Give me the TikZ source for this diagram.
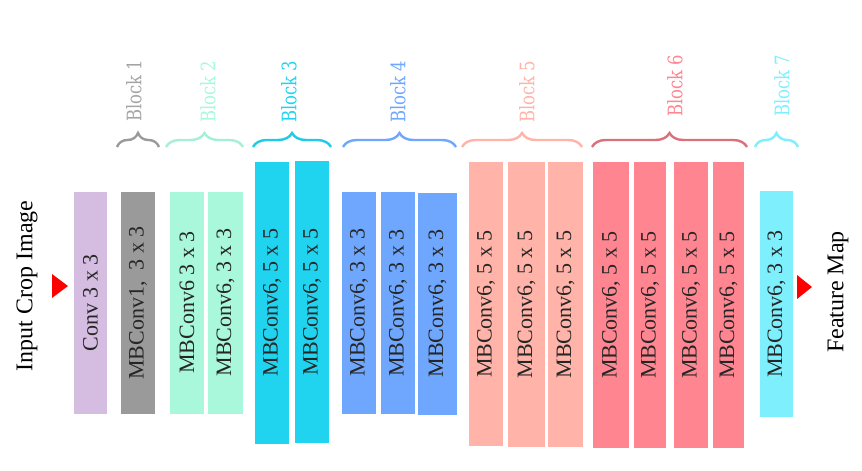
\documentclass[tikz,border=0pt]{standalone}
\usepackage{fontspec}
\setmainfont{Liberation Serif}
\newfontfamily\slabfont[FakeStretch=0.82]{DejaVu Serif}
\usetikzlibrary{decorations.pathreplacing}
\definecolor{convpurple}{HTML}{D5BDE2}
\definecolor{onegray}{HTML}{9A9A9A}
\definecolor{twomint}{HTML}{A9F8DC}
\definecolor{threecyan}{HTML}{20D4EF}
\definecolor{fourblue}{HTML}{6EA7FD}
\definecolor{fivesalmon}{HTML}{FFB3A9}
\definecolor{sixpink}{HTML}{FF8591}
\definecolor{sevencyan}{HTML}{7EF0FD}

\tikzset{
  layer/.style={rotate=90, inner sep=0pt, minimum height=34, font=\fontsize{22}{26}\selectfont, text=black!85},
  lowbar/.style={minimum width=222},
  highbar/.style={minimum width=282},
  blocklabel/.style={rotate=90, anchor=west, inner sep=0pt, font=\slabfont\fontsize{20}{24}\selectfont},
  blockbrace/.style={decorate, decoration={brace, amplitude=14pt}, line width=2.4pt},
  sidelabel/.style={rotate=90, inner sep=0pt, font=\fontsize{24}{28}\selectfont},
}

\begin{document}
\begin{tikzpicture}[x=1pt, y=-1pt]
        \useasboundingbox (0, 0) rectangle (862, 471);
        % layers
        \node[layer, lowbar, fill=convpurple, minimum height=33] (1) at (90.5, 303) {Conv 3 x 3};
        \node[layer, lowbar, fill=onegray] (2) at (138, 303) {MBConv1,\ \ 3 x 3};
        \node[layer, lowbar, fill=twomint] (3) at (187, 302.5) {MBConv6 3 x 3};
        \node[layer, lowbar, fill=twomint, minimum height=35] (4) at (225.5, 302.5) {MBConv6, 3 x 3};
        \node[layer, highbar, fill=threecyan] (5) at (272, 302.5) {MBConv6, 5 x 5};
        \node[layer, highbar, fill=threecyan] (6) at (312, 302) {MBConv6, 5 x 5};
        \node[layer, lowbar, fill=fourblue] (7) at (359, 302.5) {MBConv6, 3 x 3};
        \node[layer, lowbar, fill=fourblue] (8) at (398, 303) {MBConv6, 3 x 3};
        \node[layer, lowbar, fill=fourblue, minimum height=39] (9) at (437.5, 303.5) {MBConv6, 3 x 3};
        \node[layer, highbar, fill=fivesalmon, minimum width=284] (10) at (486, 304) {MBConv6, 5 x 5};
        \node[layer, highbar, fill=fivesalmon, minimum width=285, minimum height=37] (11) at (526.5, 304.5) {MBConv6, 5 x 5};
        \node[layer, highbar, fill=fivesalmon, minimum width=285, minimum height=35] (12) at (565.5, 304.5) {MBConv6, 5 x 5};
        \node[layer, highbar, fill=sixpink, minimum width=286, minimum height=36] (13) at (611, 305) {MBConv6, 5 x 5};
        \node[layer, highbar, fill=sixpink, minimum width=286, minimum height=32] (14) at (650, 305) {MBConv6, 5 x 5};
        \node[layer, highbar, fill=sixpink, minimum width=286] (15) at (691, 305) {MBConv6, 5 x 5};
        \node[layer, highbar, fill=sixpink, minimum width=286, minimum height=31] (16) at (728.5, 305) {MBConv6, 5 x 5};
        \node[layer, fill=sevencyan, minimum width=226, minimum height=33] (17) at (776.5, 304) {MBConv6, 3 x 3};
        % braces
        \draw[blockbrace, onegray] (117, 147) -- (159, 147);
        \draw[blockbrace, twomint!90!black!30!twomint] (166, 147) -- (243, 147);
        \draw[blockbrace, threecyan!80!black!20!threecyan] (253, 147) -- (331, 147);
        \draw[blockbrace, fourblue] (343, 147) -- (456, 147);
        \draw[blockbrace, fivesalmon] (462, 147) -- (582, 147);
        \draw[blockbrace, sixpink!85!black] (592, 147) -- (747, 147);
        \draw[blockbrace, sevencyan] (755, 147) -- (798, 147);
        \node[blocklabel, onegray!90!white] (b1) at (134, 122) {Block 1};
        \node[blocklabel, twomint] (b2) at (208, 123) {Block 2};
        \node[blocklabel, threecyan] (b3) at (289, 123) {Block 3};
        \node[blocklabel, fourblue] (b4) at (398, 123) {Block 4};
        \node[blocklabel, fivesalmon] (b5) at (527, 123) {Block 5};
        \node[blocklabel, sixpink] (b6) at (675, 117) {Block 6};
        \node[blocklabel, sevencyan] (b7) at (782, 117) {Block 7};
        % input and output
        \node[sidelabel] (in) at (27, 286) {Input Crop Image};
        \node[sidelabel] (out) at (838, 292) {Feature Map};
        \fill[red] (52, 274) -- (68, 286) -- (52, 298) -- cycle;
        \fill[red] (797, 275) -- (812, 287) -- (797, 299) -- cycle;
\end{tikzpicture}
\end{document}
